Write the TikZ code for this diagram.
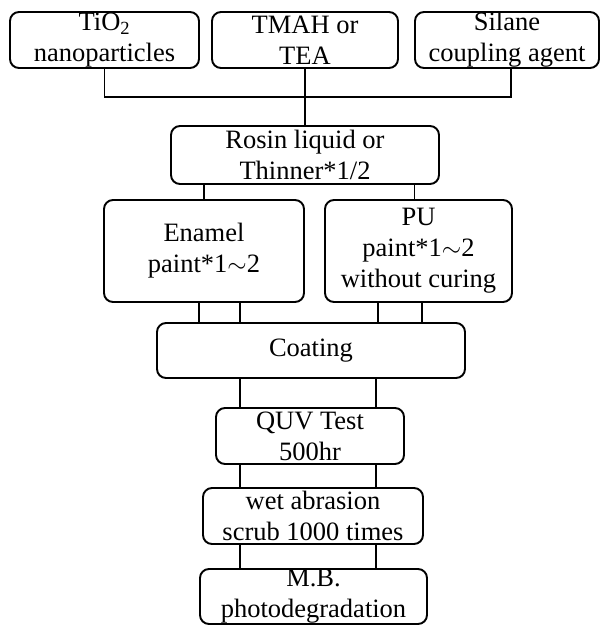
\documentclass[tikz,border=0pt]{standalone}
\usepackage{fontspec}
\setmainfont{Liberation Serif}
\tikzset{
  stage/.style={draw, line width=1.9pt, rounded corners=9pt, inner sep=0pt, align=center, font=\fontsize{26.5}{31}\selectfont},
  link/.style={line width=1.5pt}
}
\begin{document}
\begin{tikzpicture}[x=1pt,y=-1pt]
\useasboundingbox (0,0) rectangle (601,625);

% Starting materials
\node[stage, minimum width=189pt, minimum height=56pt] (tio2) at (104.5,40) {TiO\textsubscript{2}\\nanoparticles};
\node[stage, minimum width=186pt, minimum height=56pt] (tmah) at (305,40) {TMAH or\\TEA};
\node[stage, minimum width=184pt, minimum height=56pt] (silane) at (507,40) {Silane\\coupling agent};
\coordinate (join) at (305,97);

% Solvent and paints
\node[stage, minimum width=268pt, minimum height=58pt] (rosin) at (305,155) {Rosin liquid or\\Thinner*1/2};
\node[stage, minimum width=200pt, minimum height=102pt] (enamel) at (204,251) {Enamel\\paint*1$\sim$2};
\node[stage, minimum width=187pt, minimum height=102pt] (pu) at (418.5,251) {PU\\paint*1$\sim$2\\without curing};

% Coating and tests
\node[stage, minimum width=308pt, minimum height=55pt] (coating) at (311,350.5) {Coating};
\node[stage, minimum width=188pt, minimum height=56pt] (quv) at (310,436) {QUV Test\\500hr};
\node[stage, minimum width=220pt, minimum height=56pt] (wet) at (313,516) {wet abrasion\\scrub 1000 times};
\node[stage, minimum width=227pt, minimum height=55pt] (mb) at (313.5,596.5) {M.B.\\photodegradation};

% Connectors
\draw[link] (tio2.south) |- (join) -| ([xshift=4pt]silane.south);
\draw[link] (tmah.south) -- (rosin.north);
\draw[link] (rosin.south -| enamel.north) -- (enamel.north);
\draw[link] ([xshift=-4pt]pu.north |- rosin.south) -- ([xshift=-4pt]pu.north);
\foreach \dx in {-5,36}
  \draw[link] ([xshift=\dx pt]enamel.south) -- ([xshift=\dx pt]enamel.south |- coating.north);
\foreach \dx in {-40.5,3.5}
  \draw[link] ([xshift=\dx pt]pu.south) -- ([xshift=\dx pt]pu.south |- coating.north);
\foreach \dx in {-70,66} {
  \draw[link] ([xshift=\dx pt]quv.north |- coating.south) -- ([xshift=\dx pt]quv.north);
  \draw[link] ([xshift=\dx pt]quv.south) -- ([xshift=\dx pt]quv.south |- wet.north);
  \draw[link] ([xshift=\dx pt]quv.south |- wet.south) -- ([xshift=\dx pt]quv.south |- mb.north);
}

\end{tikzpicture}
\end{document}
